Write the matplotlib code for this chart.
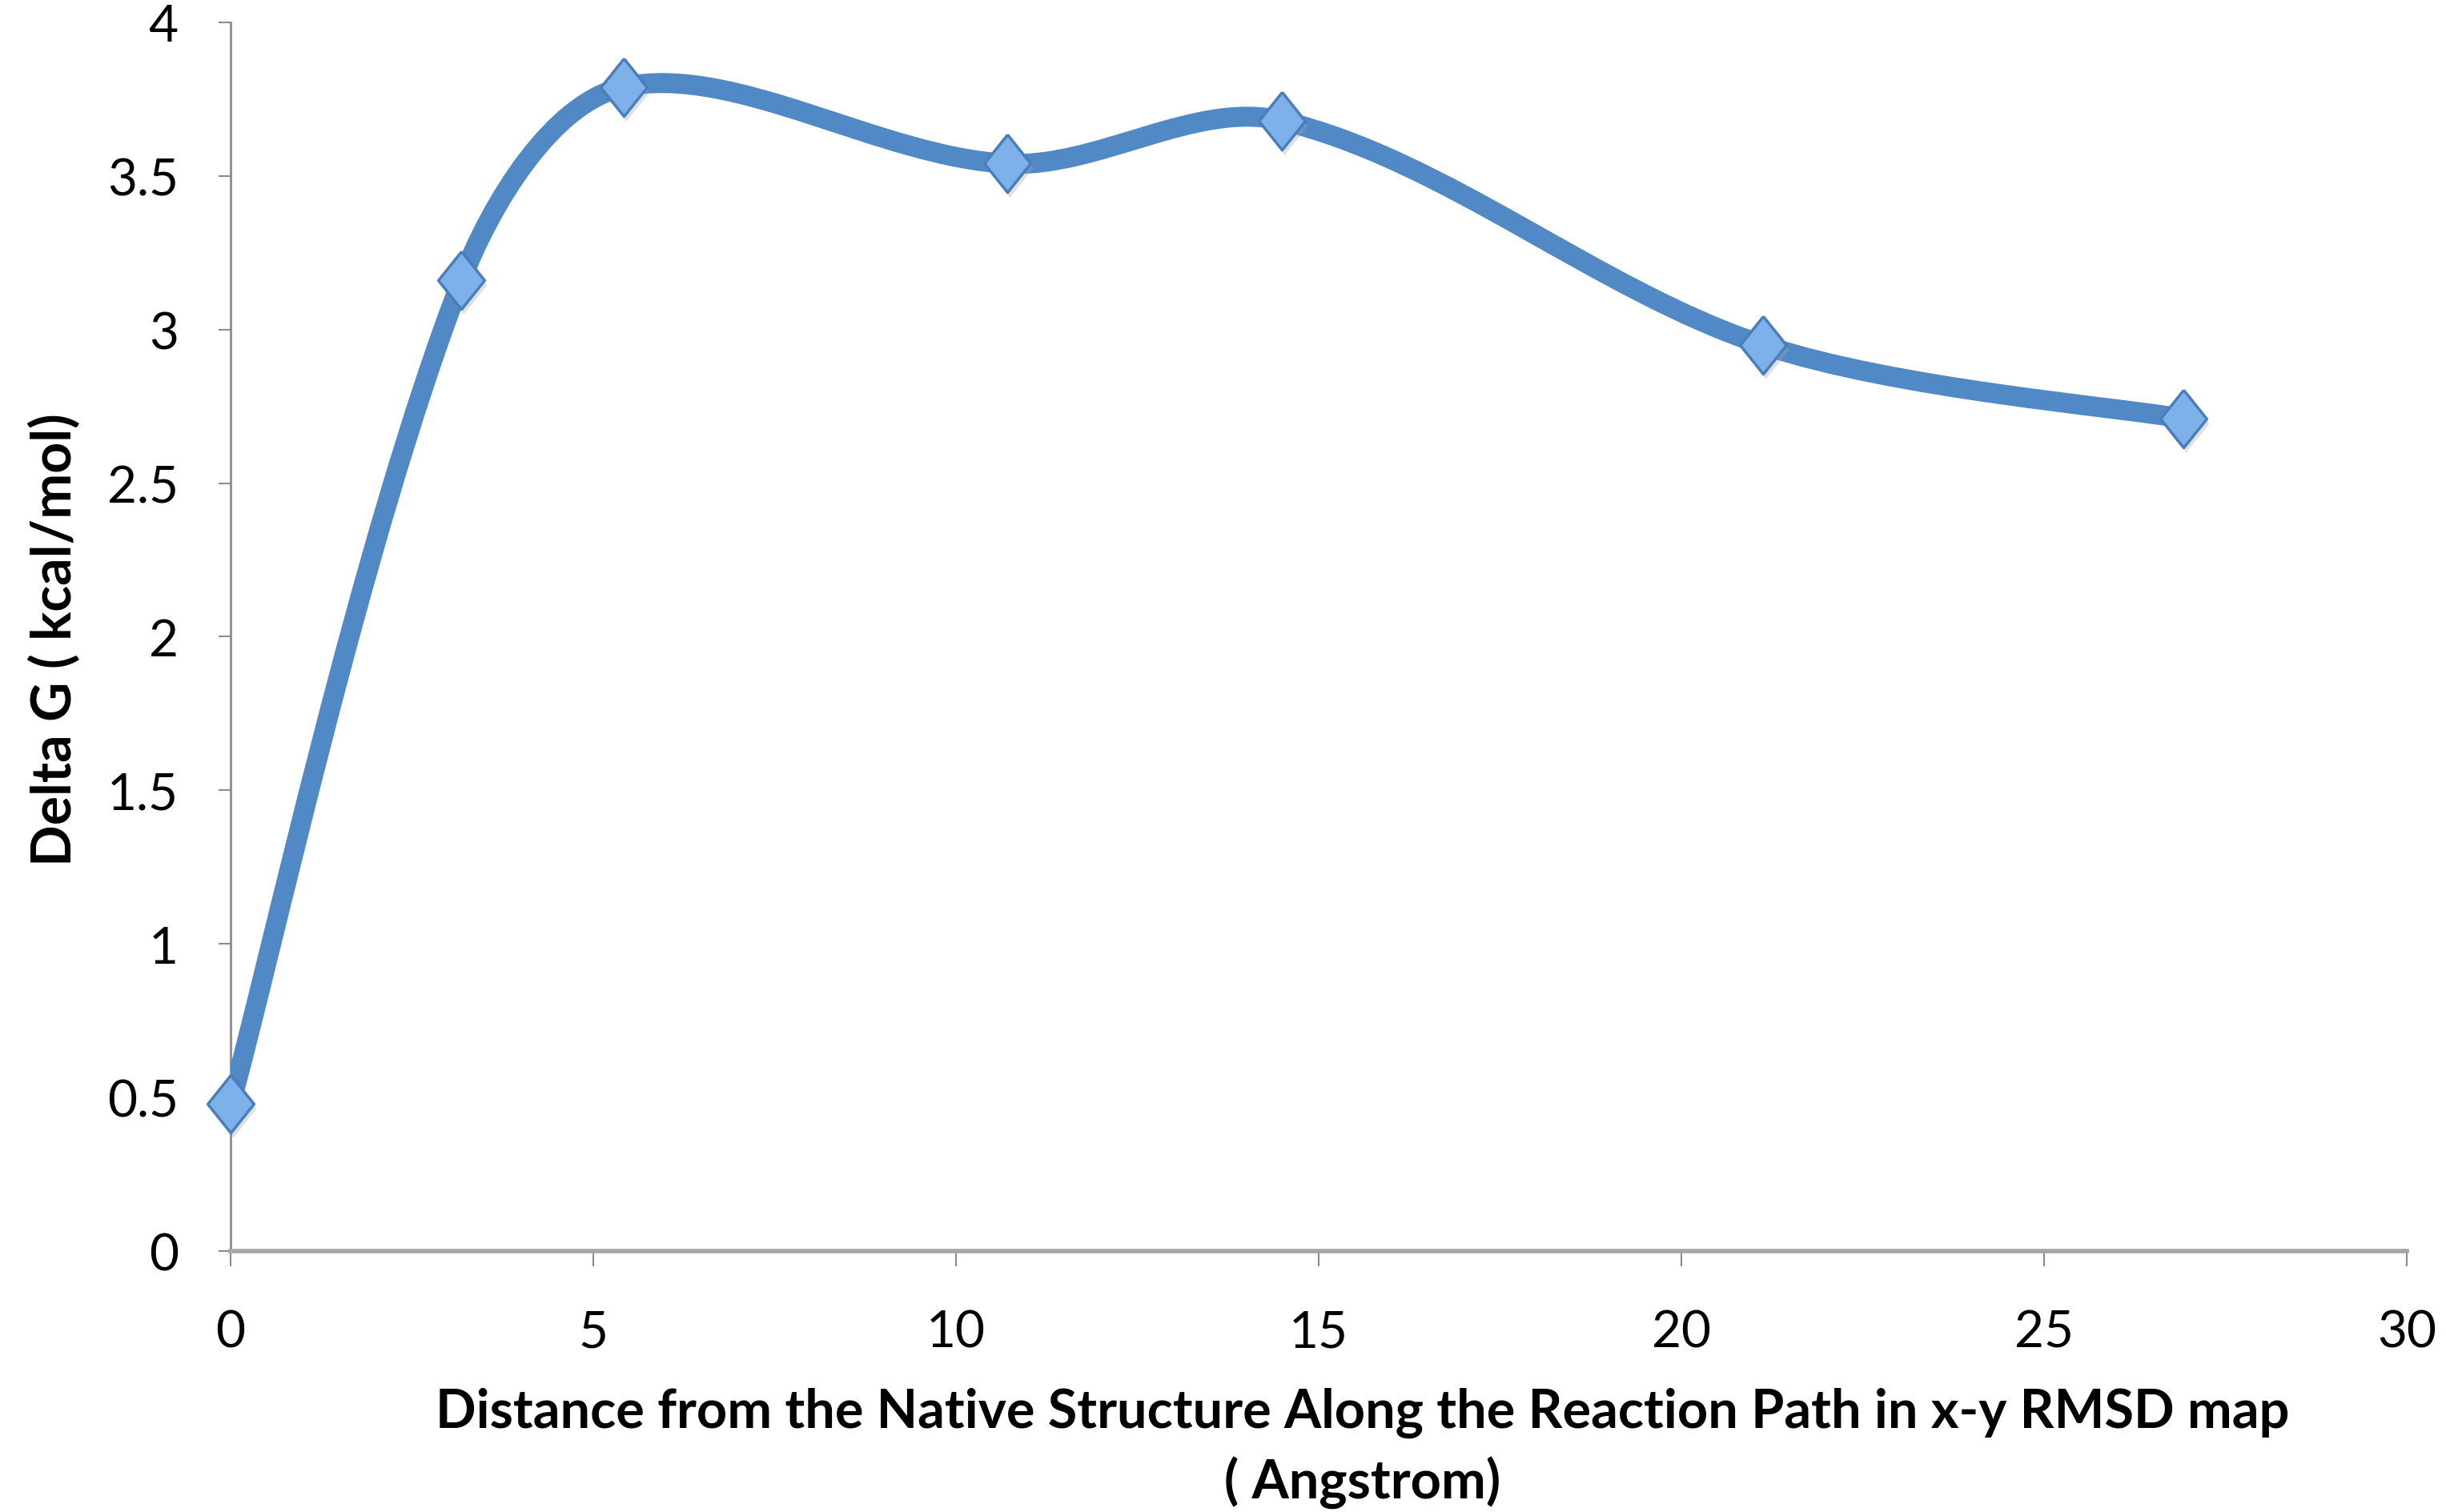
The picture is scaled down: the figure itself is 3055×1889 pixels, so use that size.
import matplotlib
matplotlib.use("Agg")
import matplotlib.pyplot as plt
import numpy as np
from matplotlib.path import Path
from matplotlib.patches import PathPatch
from matplotlib.transforms import ScaledTranslation

# values
distance = [0.0, 3.18, 5.42, 10.71, 14.49, 21.12, 26.92]
delta_g = [0.48, 3.16, 3.79, 3.54, 3.68, 2.95, 2.71]

x_ticks = [0, 5, 10, 15, 20, 25, 30]
y_ticks = [0, 0.5, 1, 1.5, 2, 2.5, 3, 3.5, 4]
y_tick_labels = ["0", "0.5", "1", "1.5", "2", "2.5", "3", "3.5", "4"]

x_title = "Distance from the Native Structure Along the Reaction Path in x-y RMSD map\n( Angstrom)"
y_title = "Delta G ( kcal/mol)"

line_color = "#5089C6"
face_color = "#7EB0EA"
edge_color = "#4A7EBB"
axis_color = "#8C8C8C"

plt.rcParams["font.family"] = ["Lato", "DejaVu Sans"]


def smooth_path(ax, xs, ys, k=1/3):
    # excel-like smoothed line, built in screen space: tangent from the
    # neighbours, handle length weighted by the adjacent segment lengths
    pts = ax.transData.transform(np.column_stack([xs, ys]))
    n = len(pts)
    seg = np.hypot(*np.diff(pts, axis=0).T)
    verts = [pts[0]]
    codes = [Path.MOVETO]
    for i in range(n - 1):
        p1, p2 = pts[i], pts[i + 1]
        if i > 0:
            t1 = (pts[i + 1] - pts[i - 1]) * seg[i] / (seg[i - 1] + seg[i])
        else:
            t1 = (p2 - p1) * 0.5
        if i + 2 < n:
            t2 = (pts[i + 2] - pts[i]) * seg[i] / (seg[i] + seg[i + 1])
        else:
            t2 = (p2 - p1) * 0.5
        verts += [p1 + k * t1, p2 - k * t2, p2]
        codes += [Path.CURVE4] * 3
    verts = ax.transData.inverted().transform(np.array(verts))
    return Path(verts, codes)


fig = plt.figure(figsize=(30.55, 18.9), dpi=100)
ax = fig.add_axes([0.0943, 0.1725, 0.8897, 0.8122])
ax.set_xlim(0, 30)
ax.set_ylim(0, 4)

curve = PathPatch(smooth_path(ax, distance, delta_g), fill=False, edgecolor=line_color,
                  linewidth=18, capstyle="round", joinstyle="round", zorder=3)
ax.add_patch(curve)

diamond = [(0, 1), (0.8, 0), (0, -1), (-0.8, 0), (0, 1)]
# soft shadow under markers
ax.plot(distance, delta_g, linestyle="none", marker=diamond, markersize=52,
        markerfacecolor="#A8A8A8", markeredgecolor="none", alpha=0.35,
        transform=ax.transData + ScaledTranslation(0.03, -0.06, fig.dpi_scale_trans),
        zorder=4, clip_on=False)
ax.plot(distance, delta_g, linestyle="none", marker=diamond, markersize=52,
        markerfacecolor=face_color, markeredgecolor=edge_color, markeredgewidth=2.5,
        zorder=5, clip_on=False)

ax.set_xticks(x_ticks)
ax.set_yticks(y_ticks)
ax.set_yticklabels(y_tick_labels)

for side in ["top", "right"]:
    ax.spines[side].set_visible(False)
ax.spines["left"].set_color(axis_color)
ax.spines["left"].set_linewidth(2)
ax.spines["bottom"].set_color("#A6A6A6")
ax.spines["bottom"].set_linewidth(4)
ax.spines["left"].set_zorder(1)

ax.tick_params(axis="x", direction="out", length=14, width=1.5, color=axis_color,
               pad=38, labelsize=46, labelcolor="black")
ax.tick_params(axis="y", direction="out", length=11, width=1.5, color=axis_color,
               pad=36, labelsize=46, labelcolor="black")

fig.text(0.557, 0.0425, x_title, ha="center", va="center", multialignment="center",
         fontsize=48, fontweight="bold", linespacing=1.43)
fig.text(0.0223, 0.577, y_title, ha="center", va="center", rotation=90,
         fontsize=49, fontweight="bold")

fig.savefig("out.png", dpi=100, facecolor="white")
